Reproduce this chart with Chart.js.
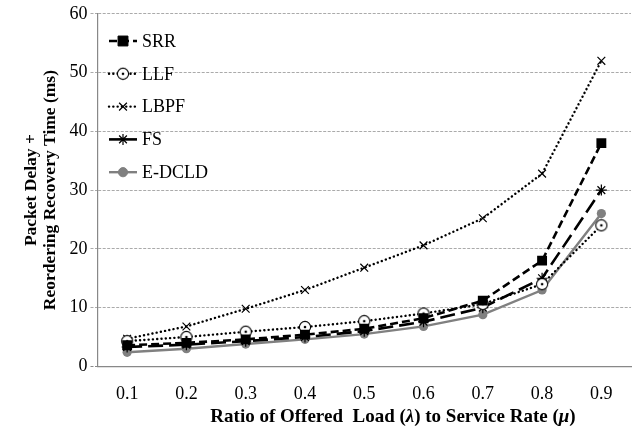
<!DOCTYPE html>
<html>
<head>
<meta charset="utf-8">
<script src="https://cdn.jsdelivr.net/npm/chart.js@4/dist/chart.umd.min.js"></script>
<style>
  html, body { margin: 0; padding: 0; background: #fff; }
  #wrap { width: 643px; height: 432px; position: relative; }
</style>
</head>
<body>
<div id="wrap"><canvas id="c" width="643" height="432"></canvas></div>
<script>
// Load ratio lambda/mu on the x axis
const loadRatios = ['0.1', '0.2', '0.3', '0.4', '0.5', '0.6', '0.7', '0.8', '0.9'];
// Packet delay + reordering recovery time (ms) per scheme
const srrValues   = [3.6, 4.0, 4.6, 5.4, 6.4, 8.2, 11.2, 18.0, 38.0];
const llfValues   = [4.3, 5.0, 5.9, 6.7, 7.7, 9.0, 10.6, 14.0, 24.0];
const lbpfValues  = [4.7, 6.8, 9.8, 13.0, 16.8, 20.6, 25.2, 32.8, 52.0];
const fsValues    = [3.3, 3.7, 4.3, 5.0, 6.0, 7.6, 10.0, 15.0, 30.0];
const edcldValues = [2.4, 3.0, 3.8, 4.6, 5.5, 6.8, 8.8, 13.0, 26.0];
const yTicks = [0, 10, 20, 30, 40, 50, 60];

const SERIF = '"Liberation Serif", "Times New Roman", serif';

// circle-with-dot marker
function dotCircle() {
  const cv = document.createElement('canvas');
  cv.width = 14; cv.height = 14;
  const g = cv.getContext('2d');
  g.fillStyle = '#fff';
  g.strokeStyle = '#000';
  g.lineWidth = 1.1;
  g.beginPath(); g.arc(7, 7, 5.6, 0, Math.PI * 2); g.fill(); g.stroke();
  g.fillStyle = '#000';
  g.beginPath(); g.arc(7, 7, 1.3, 0, Math.PI * 2); g.fill();
  return cv;
}
const llfMarker = dotCircle();

const datasets = [
  { label: 'SRR', data: srrValues, borderColor: '#000', backgroundColor: '#000',
    borderWidth: 2.6, borderDash: [8, 4], pointStyle: 'rect', pointRadius: 7,
    pointBorderWidth: 0, pointBorderColor: '#000', pointBackgroundColor: '#000' },
  { label: 'LLF', data: llfValues, borderColor: '#000', backgroundColor: '#fff',
    borderWidth: 2.4, borderDash: [0.1, 4.2], borderCapStyle: 'round',
    pointStyle: llfMarker, pointRadius: 6 },
  { label: 'LBPF', data: lbpfValues, borderColor: '#000', backgroundColor: '#000',
    borderWidth: 2.4, borderDash: [0.1, 4.2], borderCapStyle: 'round',
    pointStyle: 'crossRot', pointRadius: 5.5, pointBorderWidth: 1.2, pointBorderColor: '#000' },
  { label: 'FS', data: fsValues, borderColor: '#000', backgroundColor: '#000',
    borderWidth: 2.6, borderDash: [15, 6], pointStyle: 'star', pointRadius: 5.5,
    pointBorderWidth: 1.2, pointBorderColor: '#000' },
  { label: 'E-DCLD', data: edcldValues, borderColor: '#808080', backgroundColor: '#808080',
    borderWidth: 2.4, pointStyle: 'circle', pointRadius: 4.6,
    pointBorderWidth: 0, pointBackgroundColor: '#808080', pointBorderColor: '#808080' }
];
datasets.forEach(d => { d.tension = 0; d.fill = false; });

// legend drawn inside the plot, top-left
const legendInPlot = {
  id: 'legendInPlot',
  afterDraw(chart) {
    const ctx = chart.ctx;
    const x0 = 109, x1 = 137, tx = 142, y0 = 41, step = 32.8;
    ctx.save();
    ctx.font = '18px ' + SERIF;
    ctx.textBaseline = 'middle';
    ctx.textAlign = 'left';
    chart.data.datasets.forEach((ds, i) => {
      const y = y0 + i * step;
      ctx.save();
      ctx.strokeStyle = ds.borderColor;
      ctx.lineWidth = ds.borderWidth;
      ctx.lineCap = ds.borderCapStyle || 'butt';
      ctx.setLineDash(ds.label === 'FS' ? [] : (ds.borderDash || []));
      ctx.beginPath(); ctx.moveTo(x0, y); ctx.lineTo(x1, y); ctx.stroke();
      ctx.restore();
      ctx.save();
      ctx.fillStyle = ds.pointBackgroundColor || ds.backgroundColor;
      ctx.strokeStyle = ds.pointBorderColor || ds.borderColor;
      ctx.lineWidth = ds.pointBorderWidth !== undefined ? ds.pointBorderWidth : 1;
      Chart.helpers.drawPoint(ctx, {
        pointStyle: ds.pointStyle, radius: ds.pointRadius, rotation: 0,
        borderWidth: ctx.lineWidth
      }, (x0 + x1) / 2, y);
      ctx.restore();
      ctx.fillStyle = '#000';
      ctx.fillText(ds.label, tx, y + 1);
    });
    ctx.restore();
  }
};

// x-axis title with bold-italic Greek symbols
const xTitleParts = [
  ['Ratio of Offered  Load (', false],
  ['\u03BB', true],
  [') to Service Rate (', false],
  ['\u03BC', true],
  [')', false]
];
const xAxisTitle = {
  id: 'xAxisTitle',
  afterDraw(chart) {
    const ctx = chart.ctx;
    const size = 19;
    const fonts = [`bold ${size}px ${SERIF}`, `italic bold ${size}px ${SERIF}`];
    ctx.save();
    ctx.fillStyle = '#000';
    ctx.textBaseline = 'middle';
    ctx.textAlign = 'left';
    let total = 0;
    xTitleParts.forEach(([t, it]) => { ctx.font = fonts[it ? 1 : 0]; total += ctx.measureText(t).width; });
    let x = 393 - total / 2;
    const y = 417;
    xTitleParts.forEach(([t, it]) => {
      ctx.font = fonts[it ? 1 : 0];
      ctx.fillText(t, x, y);
      x += ctx.measureText(t).width;
    });
    ctx.restore();
  }
};

new Chart(document.getElementById('c'), {
  type: 'line',
  data: { labels: loadRatios, datasets: datasets },
  options: {
    responsive: false,
    animation: false,
    devicePixelRatio: 1,
    layout: { padding: { left: 22, right: 12, top: 6, bottom: 10 } },
    plugins: { legend: { display: false }, tooltip: { enabled: false } },
    scales: {
      x: {
        offset: true,
        grid: { display: false, drawTicks: false },
        border: { display: true, color: '#888', width: 1.2 },
        ticks: { color: '#000', font: { family: SERIF, size: 18 }, padding: 17 }
      },
      y: {
        min: 0, max: 60,
        afterBuildTicks(axis) { axis.ticks = yTicks.map(v => ({ value: v })); },
        grid: {
          color: ctx => (ctx.tick && ctx.tick.value === 0) ? '#888' : '#aaa',
          lineWidth: 1,
          tickLength: 7,
          tickBorderDash: [3, 1.5]
        },
        border: { display: true, color: '#888', width: 1.2, dash: [3, 1.5] },
        ticks: { color: '#000', font: { family: SERIF, size: 18 }, padding: 3 },
        title: {
          display: true,
          text: ['Packet Delay +', 'Reordering Recovery Time (ms)'],
          color: '#000',
          font: { family: SERIF, size: 17.5, weight: 'bold', lineHeight: 1.1 },
          padding: { top: 0, bottom: 6 }
        }
      }
    }
  },
  plugins: [legendInPlot, xAxisTitle]
});
</script>
</body>
</html>
